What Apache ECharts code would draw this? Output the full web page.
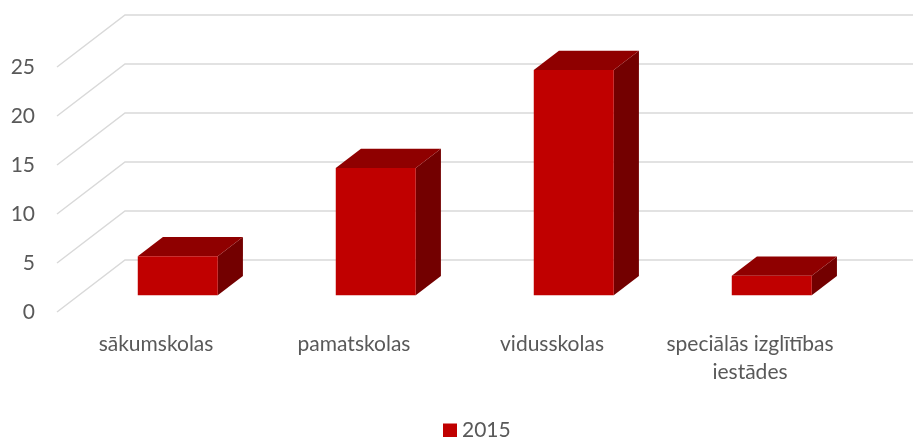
<!DOCTYPE html>
<html>
<head>
<meta charset="utf-8">
<script src="https://cdn.jsdelivr.net/npm/echarts@6/dist/echarts.min.js"></script>
<style>
  html, body { margin: 0; padding: 0; background: #fff; }
  #chart-container { width: 913px; height: 437px; }
</style>
</head>
<body>
<div id="chart-container"></div>
<script>
var dom = document.getElementById('chart-container');
var myChart = echarts.init(dom, null, { renderer: 'canvas' });

// data
var categories = ['sākumskolas', 'pamatskolas', 'vidusskolas', 'speciālās izglītības\niestādes'];
var values2015 = [4, 13, 23, 2];
var yTicks = [0, 5, 10, 15, 20, 25];

// 3d look: full floor depth and where the bar sits inside it
var DX = 68, DY = -52;
var barFront = 0.32, barDepth = 0.37;

var textColor = '#595959';
var font = 'Lato';

function renderGrid(params, api) {
  var cs = params.coordSys;
  var y = api.coord([0, api.value(1)])[1];
  return {
    type: 'polyline',
    shape: {
      points: [
        [cs.x, y],
        [cs.x + DX, y + DY],
        [cs.x + cs.width + DX, y + DY]
      ]
    },
    style: { stroke: '#d9d9d9', lineWidth: 1.5, fill: null }
  };
}

function renderBar(params, api) {
  var i = api.value(0);
  var base = api.coord([i, 0]);
  var top = api.coord([i, api.value(1)]);
  var w = api.size([1, 0])[0] * 0.404;
  var ox = DX * barFront, oy = DY * barFront;
  var dx = DX * barDepth, dy = DY * barDepth;
  var x0 = base[0] - w / 2 + ox, x1 = x0 + w;
  var yb = base[1] + oy, yt = top[1] + oy;
  return {
    type: 'group',
    children: [
      {
        type: 'polygon',
        shape: { points: [[x1, yb], [x1 + dx, yb + dy], [x1 + dx, yt + dy], [x1, yt]] },
        style: { fill: '#730000' }
      },
      {
        type: 'polygon',
        shape: { points: [[x0, yt], [x1, yt], [x1 + dx, yt + dy], [x0 + dx, yt + dy]] },
        style: { fill: '#8f0000' }
      },
      {
        type: 'rect',
        shape: { x: x0, y: yt, width: w, height: yb - yt },
        style: { fill: '#c00000' }
      }
    ]
  };
}

var option = {
  animation: false,
  textStyle: { fontFamily: font },
  legend: {
    data: ['2015'],
    top: 415,
    left: 438,
    icon: 'rect',
    itemWidth: 14,
    itemHeight: 14,
    itemGap: 6,
    textStyle: { color: textColor, fontSize: 21, fontFamily: font }
  },
  grid: { left: 57, right: 64, top: 67, bottom: 125 },
  xAxis: {
    type: 'category',
    data: categories,
    axisLine: { show: false },
    axisTick: { show: false },
    axisLabel: {
      color: textColor,
      fontSize: 21,
      fontFamily: font,
      margin: 18,
      lineHeight: 28,
      interval: 0
    }
  },
  yAxis: {
    type: 'value',
    min: 0,
    max: 25,
    interval: 5,
    splitLine: { show: false },
    axisLine: { show: false },
    axisTick: { show: false },
    axisLabel: { color: textColor, fontSize: 21, fontFamily: font, margin: 22 }
  },
  series: [
    {
      name: 'grid',
      type: 'custom',
      renderItem: renderGrid,
      data: yTicks.map(function (v) { return [0, v]; }),
      clip: false,
      silent: true,
      z: 1
    },
    {
      name: '2015',
      type: 'custom',
      renderItem: renderBar,
      data: values2015.map(function (v, i) { return [i, v]; }),
      itemStyle: { color: '#c00000' },
      clip: false,
      z: 2
    }
  ]
};

myChart.setOption(option);
window.addEventListener('resize', myChart.resize);
</script>
</body>
</html>
